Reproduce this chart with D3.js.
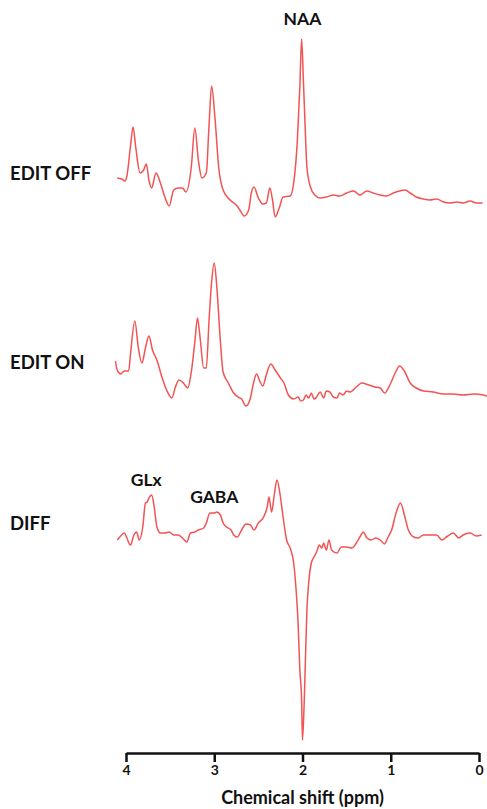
<!DOCTYPE html>
<html>
<head>
<meta charset="utf-8">
<script src="https://cdn.jsdelivr.net/npm/d3@7"></script>
<style>
	body { margin: 0; background: #fff; }
	svg { display: block; }
	text { font-family: Lato, 'Open Sans', sans-serif; font-weight: 700; fill: #111; }
</style>
</head>
<body>
<svg id="chart" width="487" height="809"></svg>
<script>
// chemical shift (ppm)
const PPM_OFF = [4.10, 4.05, 4.01, 3.99, 3.95, 3.92, 3.89, 3.84, 3.80, 3.77, 3.74, 3.71, 3.66, 3.61, 3.56, 3.51, 3.46, 3.41, 3.36, 3.32, 3.26, 3.22, 3.18, 3.14, 3.09, 3.06, 3.03, 2.99, 2.95, 2.90, 2.82, 2.75, 2.71, 2.66, 2.61, 2.58, 2.55, 2.50, 2.45, 2.41, 2.37, 2.34, 2.31, 2.26, 2.22, 2.14, 2.10, 2.06, 2.03, 2.01, 1.99, 1.97, 1.95, 1.91, 1.86, 1.80, 1.73, 1.65, 1.58, 1.50, 1.42, 1.35, 1.27, 1.20, 1.12, 1.05, 0.97, 0.90, 0.84, 0.78, 0.71, 0.63, 0.56, 0.48, 0.40, 0.33, 0.25, 0.18, 0.10, 0.03, -0.04];
const AMP_OFF = [22, 21, 19, 24, 53, 73, 53, 27, 30, 36, 20, 12, 27, 17, 3, -6, 10, 12, 12, 8, 33, 72, 40, 22, 27, 73, 114, 80, 33, 10, 0, -5, -10, -16, -10, 7, 13, 2, -4, -3, 12, 0, -17, -7, 3, 4, 17, 57, 113, 161, 120, 73, 33, 13, 5, 2, 3, 5, 4, 7, 9, 5, 9, 7, 5, 4, 7, 9, 10, 7, 3, 1, 0, 1, -2, -3, -2, -3, -1, -3, -3];

const PPM_ON = [4.12, 4.10, 4.06, 4.02, 3.97, 3.95, 3.90, 3.86, 3.82, 3.78, 3.74, 3.70, 3.65, 3.60, 3.54, 3.48, 3.44, 3.40, 3.35, 3.30, 3.26, 3.22, 3.19, 3.16, 3.12, 3.09, 3.06, 3.03, 3.00, 2.97, 2.93, 2.90, 2.84, 2.78, 2.73, 2.69, 2.64, 2.59, 2.56, 2.52, 2.48, 2.45, 2.41, 2.36, 2.31, 2.25, 2.21, 2.16, 2.10, 2.05, 2.02, 1.99, 1.96, 1.93, 1.90, 1.87, 1.84, 1.80, 1.76, 1.73, 1.69, 1.65, 1.61, 1.58, 1.54, 1.50, 1.46, 1.39, 1.33, 1.25, 1.18, 1.12, 1.07, 1.01, 0.95, 0.90, 0.84, 0.78, 0.71, 0.63, 0.52, 0.40, 0.29, 0.18, 0.06, -0.05, -0.11];
const AMP_ON = [34, 25, 21, 24, 24, 40, 74, 47, 32, 47, 59, 45, 35, 20, 5, -3, 8, 15, 12, 7, 23, 53, 77, 57, 27, 27, 73, 113, 132, 107, 53, 23, 12, 2, -2, -4, -11, -3, 10, 21, 13, 9, 20, 31, 25, 17, 12, 0, -4, -2, -6, -5, 0, -3, 2, -4, -2, 3, -3, 4, 3, -2, -3, 2, 0, 4, 3, 8, 12, 10, 8, 7, 2, 10, 22, 29, 23, 12, 7, 4, 3, 1, 1, 0, 1, 0, -2];

const PPM_DIFF = [4.10, 4.07, 4.02, 3.99, 3.95, 3.91, 3.88, 3.85, 3.81, 3.78, 3.76, 3.74, 3.71, 3.68, 3.65, 3.61, 3.56, 3.51, 3.46, 3.41, 3.36, 3.31, 3.27, 3.22, 3.18, 3.12, 3.09, 3.05, 3.00, 2.97, 2.93, 2.90, 2.86, 2.81, 2.78, 2.74, 2.69, 2.64, 2.59, 2.55, 2.50, 2.44, 2.40, 2.38, 2.35, 2.32, 2.29, 2.25, 2.22, 2.18, 2.14, 2.10, 2.07, 2.05, 2.03, 2.01, 2.00, 1.98, 1.97, 1.95, 1.93, 1.90, 1.87, 1.84, 1.81, 1.78, 1.76, 1.73, 1.70, 1.67, 1.61, 1.56, 1.50, 1.44, 1.39, 1.35, 1.31, 1.27, 1.22, 1.17, 1.12, 1.07, 1.03, 0.99, 0.94, 0.89, 0.84, 0.80, 0.74, 0.69, 0.63, 0.56, 0.48, 0.42, 0.37, 0.29, 0.23, 0.18, 0.10, 0.03, -0.03];
const AMP_DIFF = [-4, -1, 3, -2, -9, 1, 4, -4, 9, 33, 34, 38, 41, 29, 9, 3, 3, 4, 1, 1, -2, -6, 3, 4, 6, 8, 13, 23, 23, 24, 21, 13, 9, 6, 1, -1, 6, 12, 11, 6, 13, 19, 29, 39, 24, 41, 56, 39, 19, -4, -12, -27, -57, -87, -134, -164, -204, -164, -134, -74, -47, -27, -21, -16, -9, -12, -7, -14, -4, -14, -17, -11, -11, -12, -7, -1, 4, -2, -4, -2, -4, -8, -1, 6, 23, 33, 19, 6, -1, -2, 1, 1, 1, -4, -1, 3, -2, 1, 3, 0, 1];

const SPECTRA = ['EDIT OFF', 'EDIT ON', 'DIFF'];
const TICKS = [4, 3, 2, 1, 0];
const PEAKS = ['NAA', 'GLx', 'GABA'];

const $svg = d3.select('#chart');

const x = d3.scaleLinear().domain([4, 0]).range([126, 479]);

// one amplitude scale per trace, shifted down the page
const panels = [
	{ name: SPECTRA[0], ppm: PPM_OFF, amp: AMP_OFF, base: 200, labelY: 180 },
	{ name: SPECTRA[1], ppm: PPM_ON, amp: AMP_ON, base: 395, labelY: 369 },
	{ name: SPECTRA[2], ppm: PPM_DIFF, amp: AMP_DIFF, base: 536, labelY: 530 }
];

panels.forEach(p => {
	const y = d3.scaleLinear().domain([0, 100]).range([p.base, p.base - 100]);
	const line = d3.line()
		.x(d => x(d[0]))
		.y(d => y(d[1]))
		.curve(d3.curveMonotoneX);

	$svg.append('path')
		.datum(d3.zip(p.ppm, p.amp))
		.attr('d', line)
		.attr('fill', 'none')
		.attr('stroke', '#f25353')
		.attr('stroke-width', 1.5)
		.attr('stroke-linejoin', 'round');

	$svg.append('text')
		.attr('x', 10)
		.attr('y', p.labelY)
		.attr('font-size', 18.5)
		.text(p.name);
});

// peak names
const peakPos = [
	{ ppm: 2.0, y: 25 },
	{ ppm: 3.77, y: 486 },
	{ ppm: 3.0, y: 503 }
];
$svg.selectAll('text.peak')
	.data(PEAKS)
	.join('text')
	.attr('class', 'peak')
	.attr('x', (d, i) => x(peakPos[i].ppm))
	.attr('y', (d, i) => peakPos[i].y)
	.attr('text-anchor', 'middle')
	.attr('font-size', 17.5)
	.text(d => d);

const axis = d3.axisBottom(x)
	.tickValues(TICKS)
	.tickFormat(d3.format('d'))
	.tickSize(9)
	.tickSizeOuter(0)
	.tickPadding(3);

const $axis = $svg.append('g')
	.attr('transform', 'translate(0,753)')
	.call(axis);

$axis.select('.domain').attr('stroke', '#111').attr('stroke-width', 2.5);
$axis.selectAll('.tick line').attr('stroke', '#111').attr('stroke-width', 2.5);
$axis.selectAll('.tick text')
	.attr('font-size', 14)
	.attr('font-family', 'Lato, sans-serif')
	.attr('font-weight', 700)
	.attr('fill', '#111');

$svg.append('text')
	.attr('x', x(2))
	.attr('y', 804)
	.attr('text-anchor', 'middle')
	.attr('font-size', 18)
	.text('Chemical shift (ppm)');
</script>
</body>
</html>
